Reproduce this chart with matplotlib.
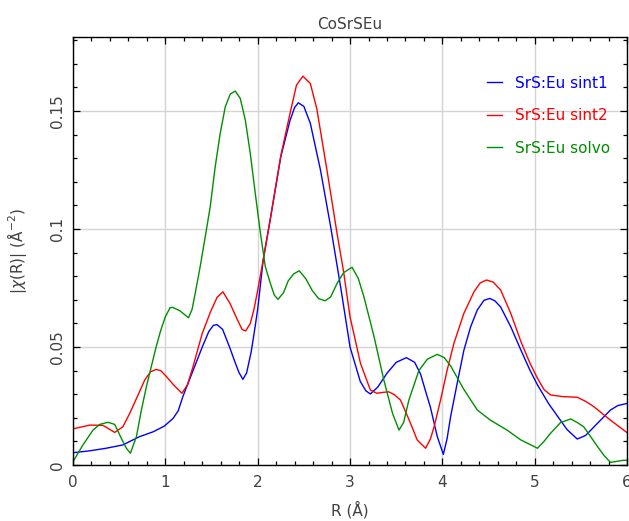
import matplotlib
matplotlib.use("Agg")
import matplotlib.pyplot as plt
from matplotlib.ticker import MultipleLocator

# |chi(R)| magnitude for the three SrS:Eu samples
r_sint1 = [0, 0.18, 0.36, 0.54, 0.72, 0.87, 0.99, 1.085, 1.14, 1.19, 1.3, 1.4, 1.47, 1.52,
           1.56, 1.62, 1.7, 1.76, 1.8, 1.84, 1.88, 1.93, 1.97, 2.0, 2.06, 2.14, 2.25, 2.35,
           2.4, 2.44, 2.5, 2.57, 2.68, 2.79, 2.9, 3.0, 3.11, 3.17, 3.22, 3.3, 3.4, 3.5,
           3.61, 3.7, 3.764, 3.82, 3.87, 3.945, 4.01, 4.05, 4.089, 4.16, 4.233, 4.306,
           4.378, 4.45, 4.515, 4.57, 4.63, 4.74, 4.85, 4.95, 5.03, 5.15, 5.25, 5.35, 5.46,
           5.55, 5.68, 5.82, 5.9, 6.0]
chi_sint1 = [0.0052, 0.0060, 0.0071, 0.0085, 0.012, 0.0141, 0.0165, 0.0198, 0.023, 0.029,
             0.040, 0.050, 0.0565, 0.0592, 0.0595, 0.0575, 0.0495, 0.043, 0.039, 0.0363,
             0.039, 0.048, 0.058, 0.066, 0.087, 0.105, 0.1306, 0.146, 0.1515, 0.1535, 0.152,
             0.1448, 0.125, 0.101, 0.075, 0.050, 0.0355, 0.0315, 0.0301, 0.033, 0.0389,
             0.0435, 0.0455, 0.0435, 0.0385, 0.031, 0.0245, 0.012, 0.0045, 0.011, 0.0205,
             0.0346, 0.0487, 0.0586, 0.0657, 0.0698, 0.0706, 0.0695, 0.067, 0.0586, 0.0487,
             0.040, 0.0339, 0.026, 0.0205, 0.015, 0.011, 0.0125, 0.0177, 0.0233, 0.0252,
             0.0261]

r_sint2 = [0, 0.18, 0.325, 0.452, 0.54, 0.615, 0.705, 0.777, 0.84, 0.9, 0.95, 1.0, 1.1,
           1.18, 1.24, 1.3, 1.4, 1.49, 1.56, 1.623, 1.7, 1.775, 1.83, 1.87, 1.92, 1.96, 2.0,
           2.06, 2.14, 2.25, 2.35, 2.42, 2.49, 2.57, 2.64, 2.75, 2.86, 2.93, 3.0, 3.113,
           3.22, 3.29, 3.36, 3.42, 3.48, 3.547, 3.655, 3.727, 3.818, 3.87, 3.91, 3.98, 4.05,
           4.125, 4.233, 4.342, 4.41, 4.479, 4.55, 4.63, 4.74, 4.85, 4.95, 5.03, 5.1, 5.17,
           5.3, 5.46, 5.55, 5.64, 5.82, 6.0]
chi_sint2 = [0.0153, 0.0169, 0.0168, 0.0138, 0.0162, 0.0219, 0.0297, 0.036, 0.0395, 0.0405,
             0.040, 0.038, 0.0335, 0.0304, 0.034, 0.0417, 0.0558, 0.065, 0.071, 0.0734,
             0.0685, 0.062, 0.0575, 0.0568, 0.060, 0.066, 0.074, 0.087, 0.105, 0.131, 0.149,
             0.161, 0.1648, 0.1617, 0.151, 0.125, 0.098, 0.082, 0.0628, 0.0431, 0.0318,
             0.0304, 0.0308, 0.031, 0.0298, 0.0275, 0.0177, 0.0106, 0.0071, 0.011, 0.0162,
             0.0275, 0.040, 0.0516, 0.0643, 0.0734, 0.0772, 0.0784, 0.0775, 0.0742, 0.0643,
             0.0523, 0.043, 0.0367, 0.032, 0.0297, 0.029, 0.0287, 0.027, 0.0247, 0.019,
             0.0137]

r_solvo = [0, 0.108, 0.217, 0.289, 0.38, 0.452, 0.524, 0.578, 0.622, 0.687, 0.741, 0.795,
           0.85, 0.9, 0.95, 1.0, 1.052, 1.08, 1.16, 1.251, 1.29, 1.323, 1.377, 1.432, 1.486,
           1.54, 1.594, 1.649, 1.703, 1.757, 1.811, 1.866, 1.92, 1.974, 2.03, 2.083, 2.137,
           2.18, 2.22, 2.28, 2.33, 2.39, 2.45, 2.52, 2.59, 2.66, 2.73, 2.79, 2.86, 2.93,
           3.022, 3.09, 3.15, 3.26, 3.366, 3.46, 3.53, 3.58, 3.637, 3.745, 3.836, 3.945,
           4.02, 4.089, 4.233, 4.378, 4.52, 4.70, 4.85, 5.03, 5.1, 5.17, 5.28, 5.39, 5.46,
           5.53, 5.68, 5.75, 5.82, 5.96, 6.0]
chi_solvo = [0.0014, 0.0085, 0.0148, 0.0172, 0.0181, 0.0172, 0.0113, 0.0071, 0.005, 0.012,
             0.0233, 0.0332, 0.042, 0.050, 0.057, 0.0628, 0.0667, 0.0668, 0.0653, 0.0624,
             0.066, 0.0727, 0.084, 0.0967, 0.1094, 0.1264, 0.1405, 0.1518, 0.1572, 0.1585,
             0.1554, 0.1462, 0.132, 0.1151, 0.0982, 0.084, 0.077, 0.072, 0.0702, 0.073,
             0.078, 0.081, 0.0823, 0.079, 0.074, 0.0705, 0.0696, 0.0712, 0.077, 0.0815,
             0.0838, 0.079, 0.0713, 0.0544, 0.036, 0.0219, 0.0148, 0.018, 0.0275, 0.040,
             0.0448, 0.0469, 0.0455, 0.042, 0.032, 0.0233, 0.019, 0.0148, 0.0106, 0.0071,
             0.010, 0.0134, 0.018, 0.0195, 0.018, 0.0162, 0.0078, 0.004, 0.0011, 0.002, 0.002]

series_labels = ["SrS:Eu sint1", "SrS:Eu sint2", "SrS:Eu solvo"]
series_colors = ["#0000ff", "#ff0000", "#008f00"]

x_ticks = [0, 1, 2, 3, 4, 5, 6]
y_ticks = [0, 0.05, 0.1, 0.15]
y_tick_labels = ["0", "0.05", "0.1", "0.15"]

text_color = "#404040"
plt.rcParams["font.family"] = ["DejaVu Sans"]

fig = plt.figure(figsize=(6.29, 5.21), dpi=100)
ax = fig.add_axes([0.116, 0.1075, 0.881, 0.8215])

for r, chi, lab, col in zip([r_sint1, r_sint2, r_solvo],
                            [chi_sint1, chi_sint2, chi_solvo],
                            series_labels, series_colors):
    ax.plot(r, chi, color=col, lw=1.0, label=lab)

ax.set_xlim(0, 6)
ax.set_ylim(0, 0.1814)
ax.set_xticks(x_ticks)
ax.set_yticks(y_ticks)
ax.set_yticklabels(y_tick_labels, rotation=90, va="center")
ax.xaxis.set_minor_locator(MultipleLocator(0.2))
ax.yaxis.set_minor_locator(MultipleLocator(0.01))
ax.tick_params(which="both", direction="in", top=True, right=True,
               colors="black", labelcolor=text_color, labelsize=11)
ax.tick_params(which="major", length=5, width=0.9)
ax.tick_params(which="minor", length=3, width=0.9)
ax.tick_params(axis="x", pad=7)
ax.tick_params(axis="y", pad=6)
ax.grid(True, which="major", color="#d4d4d4", lw=1.0)
ax.set_axisbelow(True)
for s in ax.spines.values():
    s.set_linewidth(1.0)

ax.set_title("CoSrSEu", color=text_color, fontsize=11, pad=5.5)
ax.set_xlabel("R (Å)", color=text_color, fontsize=11, labelpad=8)
ax.set_ylabel(r"|$\chi$(R)| (Å$^{-2}$)", color=text_color, fontsize=11)
ax.yaxis.set_label_coords(-0.08, 0.5)

leg = ax.legend(loc="upper right", bbox_to_anchor=(0.994, 0.942), frameon=False,
                labelcolor="linecolor", fontsize=11, handlelength=1.0,
                handletextpad=0.85, labelspacing=1.15)

fig.savefig("out.png", dpi=100)
